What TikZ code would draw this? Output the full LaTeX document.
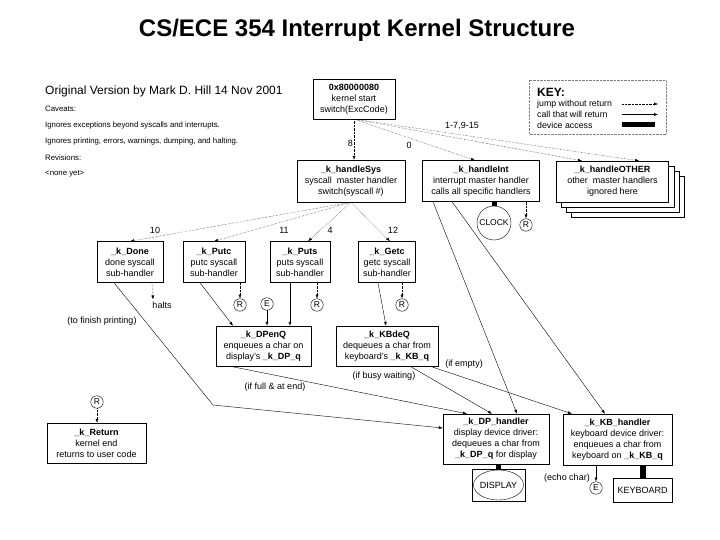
\documentclass[tikz,border=0pt]{standalone}
\usepackage{fontspec}
\setmainfont{Liberation Sans}
\usetikzlibrary{arrows.meta,calc,positioning,backgrounds}

\begin{document}
\begin{tikzpicture}[x=1pt,y=-1pt,>={Latex[length=4pt,width=3pt]},
  box/.style={draw,fill=white,align=center,inner sep=1pt,font=\fontsize{9}{11}\selectfont},
  lab/.style={inner sep=1pt,font=\fontsize{9}{10}\selectfont},
  note/.style={anchor=west,inner sep=0pt,font=\fontsize{7.8}{9}\selectfont},
  knote/.style={anchor=west,inner sep=0pt,font=\fontsize{8.8}{10}\selectfont},
  circ/.style={circle,draw,fill=white,inner sep=0pt,minimum size=12.5pt,font=\fontsize{8.5}{9}\selectfont},
  jump/.style={densely dotted,->},
  call/.style={->},
  dev/.style={line width=5pt}]
\useasboundingbox (0,0) rectangle (720,540);
% title and notes
\node[font=\bfseries\fontsize{24}{28}\selectfont] (title) at (357,30) {CS/ECE 354 Interrupt Kernel Structure};
\node[anchor=west,inner sep=0pt,font=\fontsize{12}{14}\selectfont] (orig) at (45,91) {Original Version by Mark D. Hill 14 Nov 2001};
\node[note] (cav) at (45,109) {Caveats:};
\node[note] (ign1) at (45,125) {Ignores exceptions beyond syscalls and interrupts.};
\node[note] (ign2) at (45,141) {Ignores printing, errors, warnings, dumping, and halting.};
\node[note] (rev) at (45,157.5) {Revisions:};
\node[note] (none) at (45,174) {<none yet>};
% key
\draw[densely dotted,gray] (529,80) rectangle (666,134);
\node[anchor=west,inner sep=0pt,font=\bfseries\fontsize{12}{14}\selectfont] (key) at (537,92) {KEY:};
\node[knote] (kjump) at (537,104) {jump without return};
\node[knote] (kcall) at (537,114.5) {call that will return};
\node[knote] (kdev) at (537,125) {device access};
\coordinate (kj1) at (622,104); \coordinate (kj2) at (658,104);
\coordinate (kc1) at (622,114.5); \coordinate (kc2) at (658,114.5);
\coordinate (kd1) at (622,125); \coordinate (kd2) at (655,125);
\draw[jump] (kj1)--(kj2); \draw[call] (kc1)--(kc2); \draw[dev] (kd1)--(kd2);
% master handlers
\node[box,minimum width=82pt,minimum height=40pt] (start) at (354,99) {\textbf{0x80000080}\\kernel start\\switch(ExcCode)};
\node[box,minimum width=108pt,minimum height=42pt] (hsys) at (351,181) {\textbf{\_k\_handleSys}\\syscall\ \ master handler\\switch(syscall \#)};
\node[box,minimum width=117pt,minimum height=41pt] (hint) at (481,181) {\textbf{\_k\_handleInt}\\interrupt master handler\\calls all specific handlers};
\node[box,minimum width=112pt,minimum height=41pt] (hoth) at (612.5,181.5) {\textbf{\_k\_handleOTHER}\\other\ \ master handlers\\ignored here};
\begin{scope}[on background layer]
\foreach \k in {15,10,5}
  \draw[fill=white] ([shift={(\k pt,-\k pt)}]hoth.south west) rectangle ([shift={(\k pt,-\k pt)}]hoth.north east);
\end{scope}
\draw[jump] (start.south) -- (start.south |- hsys.north) node[lab,pos=0.6,left] (l8) {8};
\draw[jump] (start.south) -- ([xshift=-6pt]hint.north);
\draw[jump] (start.south) -- ([xshift=-30.5pt]hoth.north);
\draw[jump] (start.south) -- ([xshift=26.5pt]hoth.north);
\node[lab] (l0) at (409,145) {0};
\node[lab] (lrest) at (462,126) {1-7,9-15};
% interrupts
\node[circle,draw,inner sep=0pt,minimum size=34pt,font=\fontsize{8.5}{9}\selectfont] (clock) at (494,223) {CLOCK};
\draw[dev] (clock |- hint.south) -- (clock.north);
\node[circ] (rint) at (526,225) {R};
\draw[jump] (rint |- hint.south) -- (rint.north);
% syscall sub-handlers
\node[box,minimum width=66pt,minimum height=41pt] (done) at (130,262) {\textbf{\_k\_Done}\\done syscall\\sub-handler};
\node[box,minimum width=62pt,minimum height=41pt] (putc) at (214,262) {\textbf{\_k\_Putc}\\putc syscall\\sub-handler};
\node[box,minimum width=60pt,minimum height=41pt] (puts) at (300,262) {\textbf{\_k\_Puts}\\puts syscall\\sub-handler};
\node[box,minimum width=57pt,minimum height=41pt] (getc) at (387,262) {\textbf{\_k\_Getc}\\getc syscall\\sub-handler};
\draw[jump] (hsys.south) -- (done.north);
\draw[jump] (hsys.south) -- (putc.north);
\draw[jump] (hsys.south) -- ([xshift=8pt]puts.north);
\draw[jump] (hsys.south) -- ([xshift=3pt]getc.north);
\node[lab] (l10) at (155,230) {10}; \node[lab] (l11) at (284,230) {11};
\node[lab] (l4) at (330,230) {4}; \node[lab] (l12) at (393,230) {12};
\node[lab] (halts) at (162,305) {halts};
\draw[jump] ([xshift=22pt]done.south) -- ([xshift=-9pt,yshift=1pt]halts.north);
\node[circ] (rputc) at (240,305) {R}; \node[circ] (eputc) at (267,304) {E};
\node[circ] (rputs) at (317,305) {R}; \node[circ] (rgetc) at (402,305) {R};
\draw[jump] (rputc |- putc.south) -- (rputc.north);
\draw[jump] (rputs |- puts.south) -- (rputs.north);
\draw[jump] (rgetc |- getc.south) -- (rgetc.north);
% queues
\node[box,minimum width=95pt,minimum height=40pt] (dpenq) at (263.5,346) {\textbf{\_k\_DPenQ}\\enqueues a char on\\display's \textbf{\_k\_DP\_q}};
\node[box,minimum width=102pt,minimum height=40pt] (kbdeq) at (387,346) {\textbf{\_k\_KBdeQ}\\dequeues a char from\\keyboard's \textbf{\_k\_KB\_q}};
\draw[call] ([xshift=-14pt]putc.south) -- ([xshift=-30.5pt]dpenq.north);
\draw[call] (eputc.south) -- (eputc |- dpenq.north);
\draw[call] ([xshift=-10pt]puts.south) -- ([xshift=-10pt]puts.south |- dpenq.north);
\draw[call] ([xshift=-9pt]getc.south) -- ([xshift=-1pt]kbdeq.north);
% return
\node[box,minimum width=99pt,minimum height=40pt] (kret) at (96.5,443) {\textbf{\_k\_Return}\\kernel end\\returns to user code};
\node[circ] (rret) at (97,402) {R};
\draw[jump] (rret.south) -- (rret |- kret.north);
% device drivers
\node[box,minimum width=106pt,minimum height=50pt] (dph) at (496,439) {\textbf{\_k\_DP\_handler}\\display device driver:\\dequeues a char from\\\textbf{\_k\_DP\_q} for display};
\node[box,minimum width=109pt,minimum height=51pt] (kbh) at (617.5,439.5) {\textbf{\_k\_KB\_handler}\\keyboard device driver:\\enqueues a char from\\keyboard on \textbf{\_k\_KB\_q}};
\coordinate (bend) at (213,405);
\draw[call] ([xshift=-16pt]done.south) -- (bend) -- ([yshift=11pt]dph.west);
\node[lab] (lfin) at (102,321) {(to finish printing)};
\draw[call] ([xshift=-33.5pt]dpenq.south) -- ([xshift=-29pt]dph.north);
\node[lab] (lfull) at (275,387) {(if full \& at end)};
\draw[call] ([xshift=23pt]kbdeq.south) -- ([xshift=-4pt]dph.north);
\node[lab] (lbusy) at (384,376) {(if busy waiting)};
\draw[call] ([xshift=43pt]kbdeq.south) -- ([xshift=-45.5pt]kbh.north);
\node[lab] (lempty) at (464,364) {(if empty)};
\draw[call] ([xshift=-48pt]hint.south) -- ([xshift=21pt]dph.north);
\draw[call] ([xshift=-29pt]hint.south) -- ([xshift=-12.5pt]kbh.north);
% devices
\node[draw,minimum width=53pt,minimum height=32pt,inner sep=0pt,font=\fontsize{9}{10}\selectfont] (display) at (498.5,485) {DISPLAY};
\draw (display.center) ellipse [x radius=25pt,y radius=15pt];
\draw[dev] (display.north |- dph.south) -- (display.north);
\node[draw,minimum width=59pt,minimum height=24pt,inner sep=0pt,font=\fontsize{9}{10}\selectfont] (keyboard) at (642.5,490) {KEYBOARD};
\draw[line width=6pt] (keyboard.north |- kbh.south) -- (keyboard.north);
\node[circ] (ekb) at (596,488) {E};
\draw[call] (ekb |- kbh.south) -- (ekb.north);
\node[lab] (lecho) at (567,478) {(echo char)};
\end{tikzpicture}
\end{document}
